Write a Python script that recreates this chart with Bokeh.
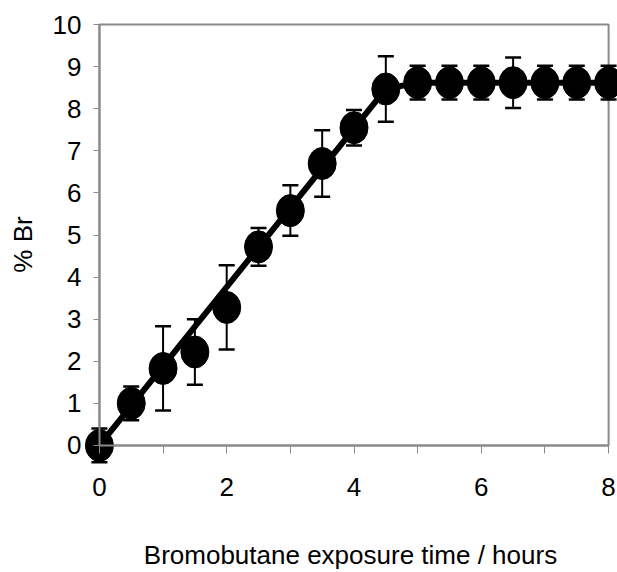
from bokeh.plotting import figure
from bokeh.models import Range1d, FixedTicker, Whisker, ColumnDataSource, TeeHead, LinearAxis
from bokeh.embed import file_html
from bokeh.resources import INLINE

# ---- data ----
time_h = [0, 0.5, 1, 1.5, 2, 2.5, 3, 3.5, 4, 4.5, 5, 5.5, 6, 6.5, 7, 7.5, 8]
br_pct = [0.0, 1.0, 1.83, 2.22, 3.28, 4.72, 5.58, 6.70, 7.55, 8.47,
          8.62, 8.62, 8.62, 8.62, 8.62, 8.62, 8.62]
br_err = [0.4, 0.4, 1.0, 0.78, 1.0, 0.45, 0.6, 0.79, 0.42, 0.78,
          0.4, 0.4, 0.4, 0.6, 0.4, 0.4, 0.4]
fit_time = [0, 4.5, 5, 8]
fit_br = [0.0, 8.47, 8.62, 8.62]
x_ticks = [0, 1, 2, 3, 4, 5, 6, 7, 8]
x_tick_labels = ["0", "", "2", "", "4", "", "6", "", "8"]
y_ticks = [0, 1, 2, 3, 4, 5, 6, 7, 8, 9, 10]
x_limits = [0, 8]
y_limits = [0, 10]

FONT = "Liberation Sans"
GREY = "#8a8a8a"

p = figure(width=617, height=572,
           x_range=Range1d(-0.25, 8.14), y_range=Range1d(-0.5, 10.05),
           output_backend="svg", toolbar_location=None,
           min_border_left=83, min_border_right=0,
           min_border_top=22, min_border_bottom=106)
p.outline_line_color = None
p.grid.visible = False
p.background_fill_color = "white"
p.border_fill_color = "white"

# plot-area box
p.quad(left=[x_limits[0]], right=[x_limits[1]], bottom=[y_limits[0]], top=[y_limits[1]],
       fill_color=None, line_color=GREY, line_width=2)

# fitted trend line
p.line(fit_time, fit_br, line_color="black", line_width=6)

# error bars
src = ColumnDataSource(dict(
    t=time_h,
    up=[v + e for v, e in zip(br_pct, br_err)],
    lo=[v - e for v, e in zip(br_pct, br_err)],
))
wh = Whisker(base="t", upper="up", lower="lo", source=src,
             line_color="black", line_width=2,
             upper_head=TeeHead(size=16, line_width=2.5, line_color="black"),
             lower_head=TeeHead(size=16, line_width=2.5, line_color="black"))
wh.level = "glyph"
p.add_layout(wh)

# markers
p.ellipse(time_h, br_pct, width=28, height=32, width_units="screen", height_units="screen",
          fill_color="black", line_color="black")

# label-only axes at the frame edges
for ax in (p.xaxis[0], p.yaxis[0]):
    ax.axis_line_color = None
    ax.major_tick_line_color = None
    ax.minor_tick_line_color = None
    ax.major_tick_out = 0
    ax.major_tick_in = 0
    ax.major_label_text_font = FONT
    ax.major_label_text_font_size = "26px"
    ax.major_label_text_color = "black"
    ax.axis_label_text_font = FONT
    ax.axis_label_text_font_style = "normal"
    ax.axis_label_text_color = "black"
    ax.axis_label_text_font_size = "26px"

xa = p.xaxis[0]
xa.ticker = FixedTicker(ticks=x_ticks)
xa.major_label_overrides = {t: l for t, l in zip(x_ticks, x_tick_labels)}
xa.major_label_standoff = 11
xa.axis_label = "Bromobutane exposure time / hours"
xa.axis_label_standoff = 41

ya = p.yaxis[0]
ya.ticker = FixedTicker(ticks=y_ticks)
ya.major_label_standoff = 2
ya.axis_label = "% Br"
ya.axis_label_standoff = 12

# line-and-tick axes fixed at the data origin (no labels of their own)
xl = LinearAxis(fixed_location=0, bounds=(x_limits[0], x_limits[1]),
                ticker=FixedTicker(ticks=x_ticks))
yl = LinearAxis(fixed_location=0, bounds=(y_limits[0], y_limits[1]),
                ticker=FixedTicker(ticks=y_ticks))
xl.major_label_overrides = {t: "" for t in x_ticks}
yl.major_label_overrides = {t: "" for t in y_ticks}
for ax in (xl, yl):
    ax.axis_line_color = GREY
    ax.axis_line_width = 2
    ax.major_tick_line_color = GREY
    ax.major_tick_line_width = 1
    ax.major_tick_out = 0
    ax.minor_tick_line_color = None
    ax.major_label_standoff = 0
xl.major_tick_in = 8
yl.major_tick_in = 6
p.add_layout(xl, "above")
p.add_layout(yl, "right")

open("out.html", "w").write(file_html(p, INLINE))
